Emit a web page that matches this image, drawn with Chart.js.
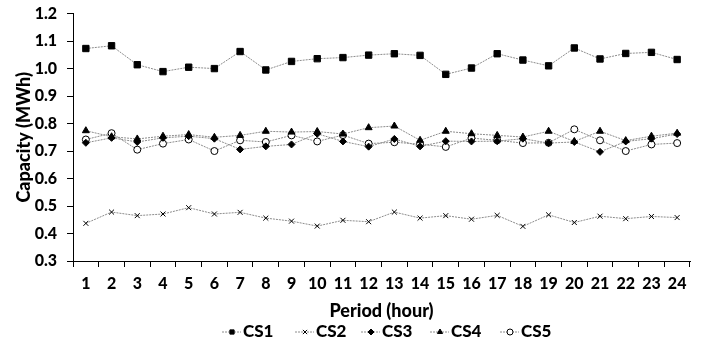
<!DOCTYPE html>
<html>
<head>
<meta charset="utf-8">
<script src="https://cdn.jsdelivr.net/npm/chart.js@4/dist/chart.umd.min.js"></script>
<style>
  html, body { margin: 0; padding: 0; background: #fff; }
  #wrap { width: 705px; height: 347px; position: relative; overflow: hidden; }
  #inner { position: absolute; left: 0; top: -6px; width: 705px; height: 353px; }
</style>
</head>
<body>
<div id="wrap"><div id="inner"><canvas id="chart"></canvas></div></div>
<script>
const periods = ['1','2','3','4','5','6','7','8','9','10','11','12','13','14','15','16','17','18','19','20','21','22','23','24'];
const cs1 = [1.073, 1.083, 1.014, 0.989, 1.005, 1.000, 1.062, 0.995, 1.026, 1.036, 1.040, 1.049,
             1.054, 1.048, 0.979, 1.002, 1.054, 1.031, 1.010, 1.075, 1.035, 1.055, 1.059, 1.033];
const cs2 = [0.437, 0.478, 0.465, 0.471, 0.494, 0.471, 0.477, 0.456, 0.445, 0.427, 0.448, 0.443,
             0.478, 0.456, 0.465, 0.452, 0.466, 0.426, 0.468, 0.440, 0.463, 0.454, 0.462, 0.458];
const cs3 = [0.730, 0.748, 0.733, 0.748, 0.754, 0.745, 0.706, 0.717, 0.724, 0.763, 0.735, 0.716,
             0.744, 0.717, 0.736, 0.735, 0.736, 0.745, 0.729, 0.733, 0.697, 0.735, 0.745, 0.762];
const cs4 = [0.774, 0.752, 0.744, 0.754, 0.760, 0.750, 0.757, 0.772, 0.769, 0.771, 0.762, 0.785,
             0.791, 0.739, 0.772, 0.763, 0.757, 0.751, 0.772, 0.735, 0.772, 0.738, 0.754, 0.765];
const cs5 = [0.742, 0.765, 0.705, 0.727, 0.742, 0.700, 0.739, 0.733, 0.757, 0.735, 0.758, 0.727,
             0.732, 0.725, 0.715, 0.747, 0.739, 0.729, 0.730, 0.779, 0.739, 0.700, 0.724, 0.729];
const yTicks = [0.3, 0.4, 0.5, 0.6, 0.7, 0.8, 0.9, 1.0, 1.1, 1.2];

const FONT = 'Lato, "Open Sans", sans-serif';
const lineColor = '#8c8c8c';

function series(label, data, style, radius, fill) {
    return {
        label, data,
        borderColor: lineColor,
        borderWidth: 1,
        borderDash: [2, 1],
        pointStyle: style,
        pointRadius: radius,
        pointHoverRadius: radius,
        pointBackgroundColor: fill,
        pointBorderColor: '#000',
        pointBorderWidth: 1,
        tension: 0,
        fill: false,
    };
}

const datasets = [
    series('CS1', cs1, 'rect', 4.5, '#000'),
    series('CS2', cs2, 'crossRot', 3.5, '#000'),
    series('CS3', cs3, 'rectRot', 3.5, '#000'),
    series('CS4', cs4, 'triangle', 4, '#000'),
    series('CS5', cs5, 'circle', 3.5, '#fff'),
];

// legend drawn like Excel: short dashed line with the marker on it
const excelLegend = {
    id: 'excelLegend',
    afterDraw(chart) {
        const ctx = chart.ctx;
        const y = chart.height - 15;
        const starts = [222, 295, 361, 430, 500];
        ctx.save();
        ctx.font = '900 17px ' + FONT;
        ctx.textBaseline = 'middle';
        chart.data.datasets.forEach((ds, i) => {
            const x0 = starts[i];
            ctx.strokeStyle = lineColor;
            ctx.lineWidth = 1;
            ctx.setLineDash([2, 1]);
            ctx.beginPath();
            ctx.moveTo(x0, y);
            ctx.lineTo(x0 + 19, y);
            ctx.stroke();
            ctx.setLineDash([]);
            ctx.fillStyle = ds.pointBackgroundColor;
            ctx.strokeStyle = '#000';
            Chart.helpers.drawPoint(ctx, {
                pointStyle: ds.pointStyle,
                radius: Math.min(ds.pointRadius, 3),
                rotation: 0,
                borderWidth: 1,
            }, x0 + 10, y);
            ctx.fillStyle = '#000';
            ctx.fillText(ds.label, x0 + 21, y);
        });
        ctx.restore();
    }
};

new Chart(document.getElementById('chart'), {
    type: 'line',
    data: { labels: periods, datasets },
    options: {
        responsive: true,
        maintainAspectRatio: false,
        animation: false,
        layout: { padding: { top: 0, right: 15, left: 0, bottom: 0 } },
        plugins: {
            legend: { display: false },
            tooltip: { enabled: false },
        },
        scales: {
            x: {
                offset: true,
                grid: {
                    offset: true,
                    drawOnChartArea: false,
                    color: '#000',
                    tickLength: 6,
                    tickColor: '#000',
                },
                border: { color: '#000', width: 1 },
                ticks: {
                    color: '#000',
                    font: { family: FONT, size: 16, weight: '900' },
                    padding: 7,
                    maxRotation: 0,
                    autoSkip: false,
                },
                title: {
                    display: true,
                    text: 'Period (hour)',
                    color: '#000',
                    font: { family: FONT, size: 18, weight: '900' },
                    padding: { top: 4, bottom: 25 },
                },
                afterFit(scale) { scale.height = 86; },
            },
            y: {
                min: 0.3,
                max: 1.2,
                afterBuildTicks(scale) { scale.ticks = yTicks.map(v => ({ value: v })); },
                grid: {
                    drawOnChartArea: false,
                    color: '#000',
                    tickLength: 6,
                    tickColor: '#000',
                },
                border: { color: '#000', width: 1 },
                ticks: {
                    color: '#000',
                    font: { family: FONT, size: 16, weight: '900' },
                    padding: 10,
                    callback: v => Number(v).toFixed(1),
                },
                title: {
                    display: true,
                    text: 'Capacity (MWh)',
                    color: '#000',
                    font: { family: FONT, size: 18, weight: '900' },
                    padding: { top: 13, bottom: 4 },
                },
                afterFit(scale) { scale.width = 73; },
            },
        },
    },
    plugins: [excelLegend],
});
</script>
</body>
</html>
